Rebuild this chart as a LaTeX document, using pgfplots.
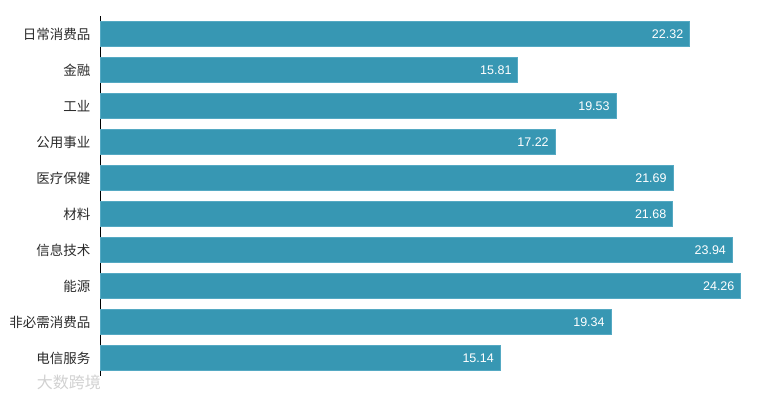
\documentclass[border=0pt]{standalone}
\usepackage{pgfplots}
\pgfplotsset{compat=1.18}
\usepackage{fontspec}
\setmainfont{Liberation Sans}
\newfontfamily\cjk{Noto Sans CJK SC}
\definecolor{barc}{HTML}{3797B3}
\definecolor{bare}{HTML}{55A9C3}
\definecolor{lab}{HTML}{2A2A2A}
\begin{document}
\begin{tikzpicture}
\begin{axis}[
  scale only axis,
  width=659.5bp, height=360bp,
  xmin=0, xmax=25,
  ymin=-0.5, ymax=9.5,
  y dir=reverse,
  xbar, bar width=25bp, bar shift=0pt,
  axis x line=none,
  axis y line=left,
  y axis line style={-, black, line width=0.8bp},
  xtick=\empty,
  ytick={0,...,9},
  yticklabels={日常消费品,金融,工业,公用事业,医疗保健,材料,信息技术,能源,非必需消费品,电信服务},
  major tick length=0pt,
  yticklabel style={font=\cjk\fontsize{13.5bp}{16bp}\selectfont, text=lab, inner sep=0pt, xshift=-10bp},
  nodes near coords,
  every node near coord/.append style={anchor=east, inner sep=0pt, xshift=-6bp, text=white, font=\fontsize{12.5bp}{14bp}\selectfont,
    /pgf/number format/fixed, /pgf/number format/fixed zerofill, /pgf/number format/precision=2,
    /pgf/number format/assume math mode=true},
  clip=false,
]
\addplot[fill=barc, draw=bare, line width=0.6bp] coordinates {
 (22.32,0) (15.81,1) (19.53,2) (17.22,3) (21.69,4)
 (21.68,5) (23.94,6) (24.26,7) (19.34,8) (15.14,9)
};
\end{axis}
\node[anchor=west, inner sep=0pt, text=black!18, font=\cjk\fontsize{16bp}{18bp}\selectfont] at (-64bp,-6bp) {大数跨境};
\path[use as bounding box] (-100.7bp,-19bp) rectangle (669.3bp,376bp);
\end{tikzpicture}
\end{document}
